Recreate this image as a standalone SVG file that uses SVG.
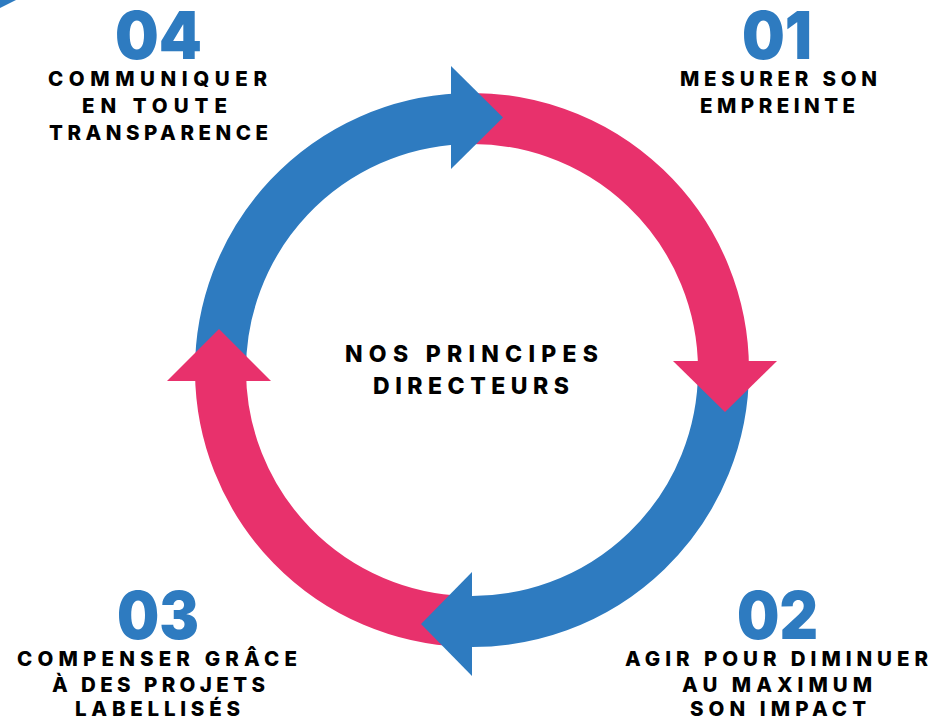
<svg xmlns="http://www.w3.org/2000/svg" width="932" height="721" viewBox="0 0 932 721">
<style>
.blue{fill:#2E7BC0}
.pink{fill:#E8316C}
.arcb{fill:none;stroke:#2E7BC0;stroke-width:51}
.arcp{fill:none;stroke:#E8316C;stroke-width:51}
.num{font-family:Inter,"Liberation Sans",sans-serif;font-weight:900;font-size:66px;fill:#2E7BC0;text-anchor:middle}
.lbl{font-family:Inter,"Liberation Sans",sans-serif;font-weight:800;font-size:20.5px;fill:#000;text-anchor:middle}
.ctr{font-family:Inter,"Liberation Sans",sans-serif;font-weight:800;font-size:23px;fill:#000;text-anchor:middle}
</style>
<rect width="932" height="721" fill="#fff"/>
<polygon class="blue" points="0,0 16,0 0,8"/>
<g id="connectors">
<path class="arcp" d="M459.7 118.8 A251.5 251.5 0 0 1 723.5 369.8"/>
<path class="arcb" d="M723.5 369.8 A251.5 251.5 0 0 1 463.2 621.3"/>
<path class="arcp" d="M463.2 621.3 A251.5 251.5 0 0 1 220.5 372.2"/>
<path class="arcb" d="M220.5 372.2 A251.5 251.5 0 0 1 459.7 118.8"/>
<polygon class="blue" points="451,66 503,117.5 451,169"/>
<polygon class="pink" points="673,361 777,361 725,412"/>
<polygon class="blue" points="472,572 472,676 421,624"/>
<polygon class="pink" points="167,381 271,381 219,329"/>
</g>
<g id="center">
<text class="ctr" x="471.5" y="362" textLength="253" lengthAdjust="spacing">NOS PRINCIPES</text>
<text class="ctr" x="471" y="394" textLength="196" lengthAdjust="spacing">DIRECTEURS</text>
</g>
<g id="step01">
<text class="num" x="777" y="59" textLength="70" lengthAdjust="spacingAndGlyphs">01</text>
<text class="lbl" x="778.5" y="86" textLength="197" lengthAdjust="spacing">MESURER SON</text>
<text class="lbl" x="777.5" y="113" textLength="155" lengthAdjust="spacing">EMPREINTE</text>
</g>
<g id="step02">
<text class="num" x="777.5" y="639" textLength="81" lengthAdjust="spacingAndGlyphs">02</text>
<text class="lbl" x="776.5" y="666" textLength="303" lengthAdjust="spacing">AGIR POUR DIMINUER</text>
<text class="lbl" x="777" y="692" textLength="190" lengthAdjust="spacing">AU MAXIMUM</text>
<text class="lbl" x="778" y="716" textLength="176" lengthAdjust="spacing">SON IMPACT</text>
</g>
<g id="step03">
<text class="num" x="158" y="639" textLength="82" lengthAdjust="spacingAndGlyphs">03</text>
<text class="lbl" x="157" y="666" textLength="280" lengthAdjust="spacing">COMPENSER GRÂCE</text>
<text class="lbl" x="158.5" y="692" textLength="213" lengthAdjust="spacing">À DES PROJETS</text>
<text class="lbl" x="157.5" y="716" textLength="165" lengthAdjust="spacing">LABELLISÉS</text>
</g>
<g id="step04">
<text class="num" x="158.5" y="59" textLength="87" lengthAdjust="spacingAndGlyphs">04</text>
<text class="lbl" x="157.5" y="86" textLength="219" lengthAdjust="spacing">COMMUNIQUER</text>
<text class="lbl" x="154.5" y="113" textLength="145" lengthAdjust="spacing">EN TOUTE</text>
<text class="lbl" x="158.5" y="140" textLength="219" lengthAdjust="spacing">TRANSPARENCE</text>
</g>
</svg>
